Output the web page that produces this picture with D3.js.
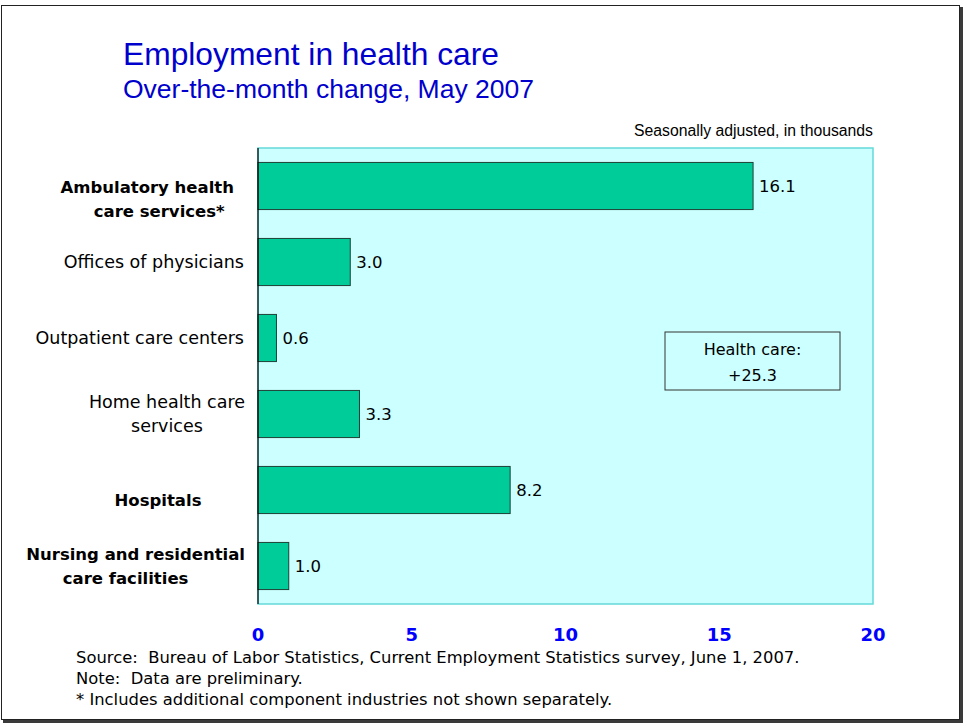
<!DOCTYPE html>
<html>
<head>
<meta charset="utf-8">
<script src="https://cdn.jsdelivr.net/npm/d3@7"></script>
<style>
  body { margin: 0; background: #fff; }
</style>
</head>
<body>
<div id="chart"></div>
<script>
// data
const categories = [
    ["Ambulatory health", "care services*"],
    ["Offices of physicians"],
    ["Outpatient care centers"],
    ["Home health care", "services"],
    ["Hospitals"],
    ["Nursing and residential", "care facilities"]
];
const boldRows = [true, false, false, false, true, true];
const values = [16.1, 3.0, 0.6, 3.3, 8.2, 1.0];
const xTicks = [0, 5, 10, 15, 20];
const totalLabel = ["Health care:", "+25.3"];
const footnotes = [
    "Source:  Bureau of Labor Statistics, Current Employment Statistics survey, June 1, 2007.",
    "Note:  Data are preliminary.",
    "* Includes additional component industries not shown separately."
];

const W = 964, H = 725;
const plot = { left: 258, right: 873, top: 148, bottom: 604 };
const sans = "'DejaVu Sans', Verdana, sans-serif";
const arial = "'Liberation Sans', Arial, sans-serif";

const svg = d3.select("#chart").append("svg")
    .attr("width", W)
    .attr("height", H);

// squeeze a text to a given width (the original uses a narrow face)
function squeeze(sel, w) {
    sel.attr("textLength", w).attr("lengthAdjust", "spacingAndGlyphs");
}

// outer frame with shadow
svg.append("rect")
    .attr("x", 3).attr("y", 7)
    .attr("width", 960).attr("height", 716)
    .attr("fill", "#3a3a3a");
svg.append("rect")
    .attr("x", 1.5).attr("y", 5.5)
    .attr("width", 958).attr("height", 714)
    .attr("fill", "#fff")
    .attr("stroke", "#222")
    .attr("stroke-width", 1);

// titles
svg.append("text")
    .attr("x", 123).attr("y", 65)
    .style("font-family", arial)
    .style("font-size", "32px")
    .attr("fill", "#0000cc")
    .text("Employment in health care")
    .call(squeeze, 376);

svg.append("text")
    .attr("x", 123).attr("y", 98)
    .style("font-family", arial)
    .style("font-size", "26px")
    .attr("fill", "#0000cc")
    .text("Over-the-month change, May 2007")
    .call(squeeze, 411);

svg.append("text")
    .attr("x", plot.right).attr("y", 136)
    .style("text-anchor", "end")
    .style("font-family", arial)
    .style("font-size", "16px")
    .attr("fill", "#000")
    .text("Seasonally adjusted, in thousands")
    .call(squeeze, 239);

// scales
const x = d3.scaleLinear()
    .domain([0, 20])
    .range([plot.left, plot.right]);

const y = d3.scaleBand()
    .domain(d3.range(values.length))
    .range([plot.top, plot.bottom])
    .paddingInner(0.38)
    .paddingOuter(0.19);

// plot background
svg.append("rect")
    .attr("x", plot.left).attr("y", plot.top)
    .attr("width", plot.right - plot.left)
    .attr("height", plot.bottom - plot.top)
    .attr("fill", "#ccffff")
    .attr("stroke", "#66d9d9")
    .attr("stroke-width", 1.5);

// bars
svg.selectAll(".bar")
    .data(values)
    .enter().append("rect")
    .attr("class", "bar")
    .attr("x", x(0))
    .attr("y", (d, i) => y(i))
    .attr("width", d => x(d) - x(0))
    .attr("height", y.bandwidth())
    .attr("fill", "#00cc99")
    .attr("stroke", "#1f3f36")
    .attr("stroke-width", 1);

// value labels
svg.selectAll(".val")
    .data(values)
    .enter().append("text")
    .attr("class", "val")
    .attr("x", d => x(d) + 6)
    .attr("y", (d, i) => y(i) + y.bandwidth() / 2 + 6)
    .style("font-family", sans)
    .style("font-size", "16.5px")
    .attr("fill", "#000")
    .text(d => d.toFixed(1));

// left axis line
svg.append("line")
    .attr("x1", plot.left).attr("x2", plot.left)
    .attr("y1", plot.top).attr("y2", plot.bottom)
    .attr("stroke", "#000")
    .attr("stroke-width", 1.2);

// category labels
categories.forEach((lines, i) => {
    let cy = y(i) + y.bandwidth() / 2;
    const bold = boldRows[i];
    // the bold single-band labels sit a little lower in the original
    if (i === 0) cy += 13;
    if (i === 4) cy += 10;
    const g = svg.append("text")
        .style("font-family", sans)
        .style("font-size", bold ? "16.5px" : "17.5px")
        .style("font-weight", bold ? "bold" : "normal")
        .attr("fill", "#000");
    if (lines.length === 1) {
        if (bold) {
            g.attr("x", 158).attr("y", cy + 6)
                .style("text-anchor", "middle")
                .text(lines[0]);
        } else {
            g.attr("x", 244).attr("y", cy + 6)
                .style("text-anchor", "end")
                .text(lines[0]);
        }
    } else {
        // first line right aligned, second roughly centred under it
        const right = i === 0 ? 234 : 245;
        const shift = i === 0 ? 12 : (i === 5 ? -10 : 0);
        const t0 = g.append("tspan")
            .attr("x", right).attr("y", cy - 6)
            .style("text-anchor", "end")
            .text(lines[0]);
        const w0 = t0.node().getComputedTextLength();
        g.append("tspan")
            .attr("x", right - w0 / 2 + shift).attr("y", cy + 18)
            .style("text-anchor", "middle")
            .text(lines[1]);
    }
});

// x axis tick labels
svg.selectAll(".xtick")
    .data(xTicks)
    .enter().append("text")
    .attr("class", "xtick")
    .attr("x", d => x(d))
    .attr("y", 641)
    .style("text-anchor", "middle")
    .style("font-family", sans)
    .style("font-size", "18px")
    .style("font-weight", "bold")
    .attr("fill", "#0000ff")
    .text(d => d);

// total box
const box = { x: 665, y: 332, w: 175, h: 58 };
svg.append("rect")
    .attr("x", box.x).attr("y", box.y)
    .attr("width", box.w).attr("height", box.h)
    .attr("fill", "#ccffff")
    .attr("stroke", "#333")
    .attr("stroke-width", 1);

svg.selectAll(".total")
    .data(totalLabel)
    .enter().append("text")
    .attr("class", "total")
    .attr("x", box.x + box.w / 2)
    .attr("y", (d, i) => box.y + 23 + i * 26)
    .style("text-anchor", "middle")
    .style("font-family", sans)
    .style("font-size", "16px")
    .attr("fill", "#000")
    .text(d => d);

// footnotes (keep the double spaces after the colons)
const foot = svg.selectAll(".foot")
    .data(footnotes)
    .enter().append("text")
    .attr("class", "foot")
    .attr("x", 76)
    .attr("y", (d, i) => 663 + i * 21)
    .style("font-family", sans)
    .style("font-size", "16px")
    .style("white-space", "pre")
    .attr("fill", "#000")
    .text(d => d);

// fit the font so the source line spans the same width as the original
const srcW = foot.node().getComputedTextLength();
foot.style("font-size", (16 * 724 / srcW).toFixed(2) + "px");
</script>
</body>
</html>
